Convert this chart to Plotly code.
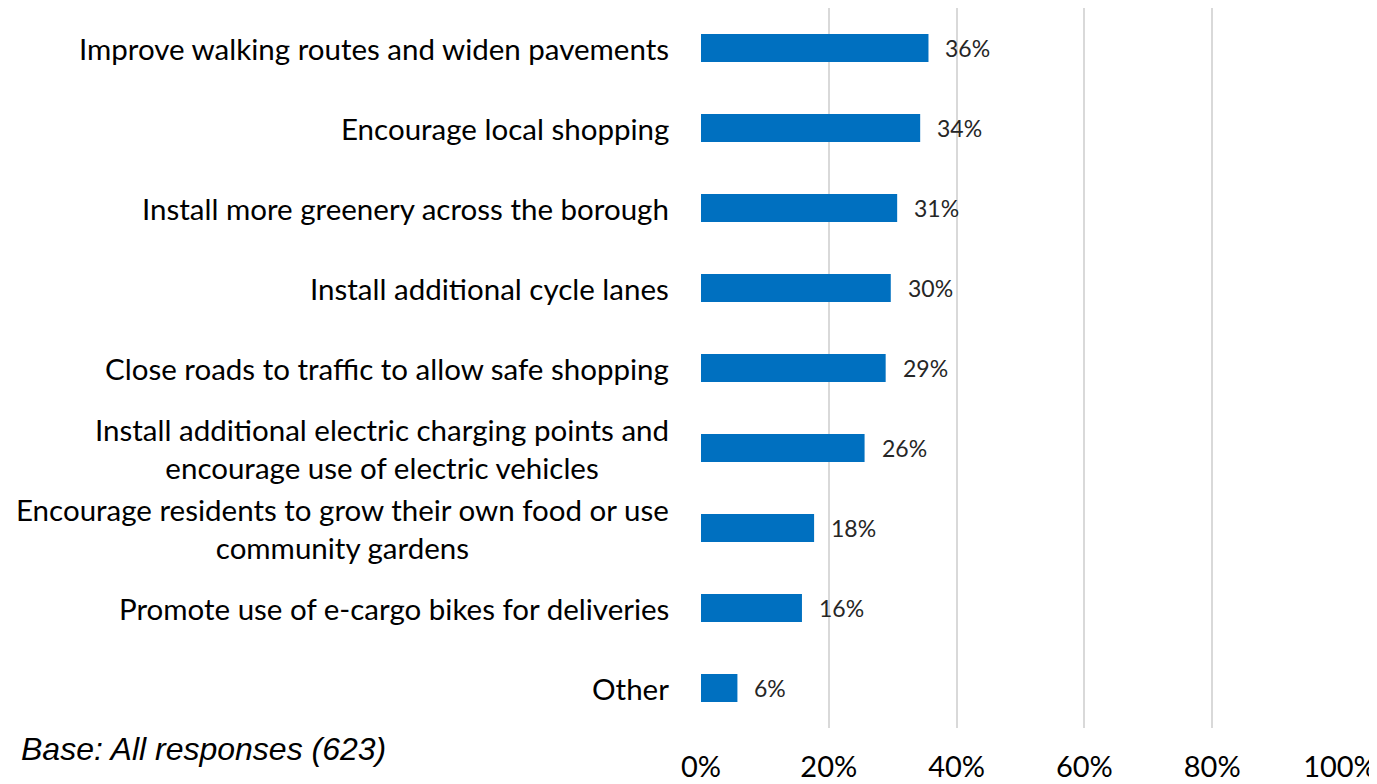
import plotly.graph_objects as go

categories = [
    "Improve walking routes and widen pavements",
    "Encourage local shopping",
    "Install more greenery across the borough",
    "Install additional cycle lanes",
    "Close roads to traffic to allow safe shopping",
    "Install additional electric charging points and<br>encourage use of electric vehicles",
    "Encourage residents to grow their own food or use<br>community gardens",
    "Promote use of e-cargo bikes for deliveries",
    "Other",
]
values = [35.6, 34.3, 30.7, 29.7, 28.9, 25.6, 17.7, 15.8, 5.7]
value_labels = ["36%", "34%", "31%", "30%", "29%", "26%", "18%", "16%", "6%"]
x_ticks = [0, 20, 40, 60, 80, 100]
x_tick_labels = ["0%", "20%", "40%", "60%", "80%", "100%"]
base_note = "Base: All responses (623)"

FONT = "Lato, Open Sans, sans-serif"

# page is rendered with an 8px body margin; compensate
W, H = 1377, 784
L, R, T, B = 693, 45, 0, 64
pw, ph = W - L - R, H - T - B

fig = go.Figure()
fig.add_trace(go.Bar(
    x=values,
    y=categories,
    orientation="h",
    width=0.35,
    marker=dict(color="#0070C0", line=dict(width=0)),
    hoverinfo="skip",
))

annotations = []
for cat, v, lab in zip(categories, values, value_labels):
    annotations.append(dict(
        x=v, y=cat, xref="x", yref="y", text=lab, showarrow=False,
        xanchor="left", yanchor="middle", xshift=15,
        font=dict(family=FONT, size=23, color="#262626"),
    ))
    annotations.append(dict(
        x=0, y=cat, xref="paper", yref="y", text=cat, showarrow=False,
        xanchor="right", yanchor="middle", xshift=-30, align="center",
        font=dict(family=FONT, size=29.5, color="#000000"),
    ))
annotations.append(dict(
    x=(11 - L) / pw, y=(H - B - 741) / ph, xref="paper", yref="paper",
    text="<i>" + base_note + "</i>",
    showarrow=False, xanchor="left", yanchor="middle",
    font=dict(family="Liberation Sans, Arial, sans-serif", size=32, color="#000000"),
))

fig.update_layout(
    width=W, height=H,
    margin=dict(l=L, r=R, t=T, b=B, pad=0),
    plot_bgcolor="white", paper_bgcolor="white",
    showlegend=False,
    annotations=annotations,
    xaxis=dict(
        range=[0, 100], tickvals=x_ticks, ticktext=x_tick_labels,
        showgrid=True, gridcolor="#D9D9D9", gridwidth=2,
        zeroline=False, showline=False,
        ticks="", ticklabelstandoff=19,
        tickfont=dict(family=FONT, size=29, color="#000000"),
        fixedrange=True,
    ),
    yaxis=dict(
        categoryorder="array", categoryarray=categories, autorange="reversed",
        showticklabels=False, showgrid=False, zeroline=False, showline=False,
        ticks="", fixedrange=True,
    ),
)

fig.write_html("out.html")
